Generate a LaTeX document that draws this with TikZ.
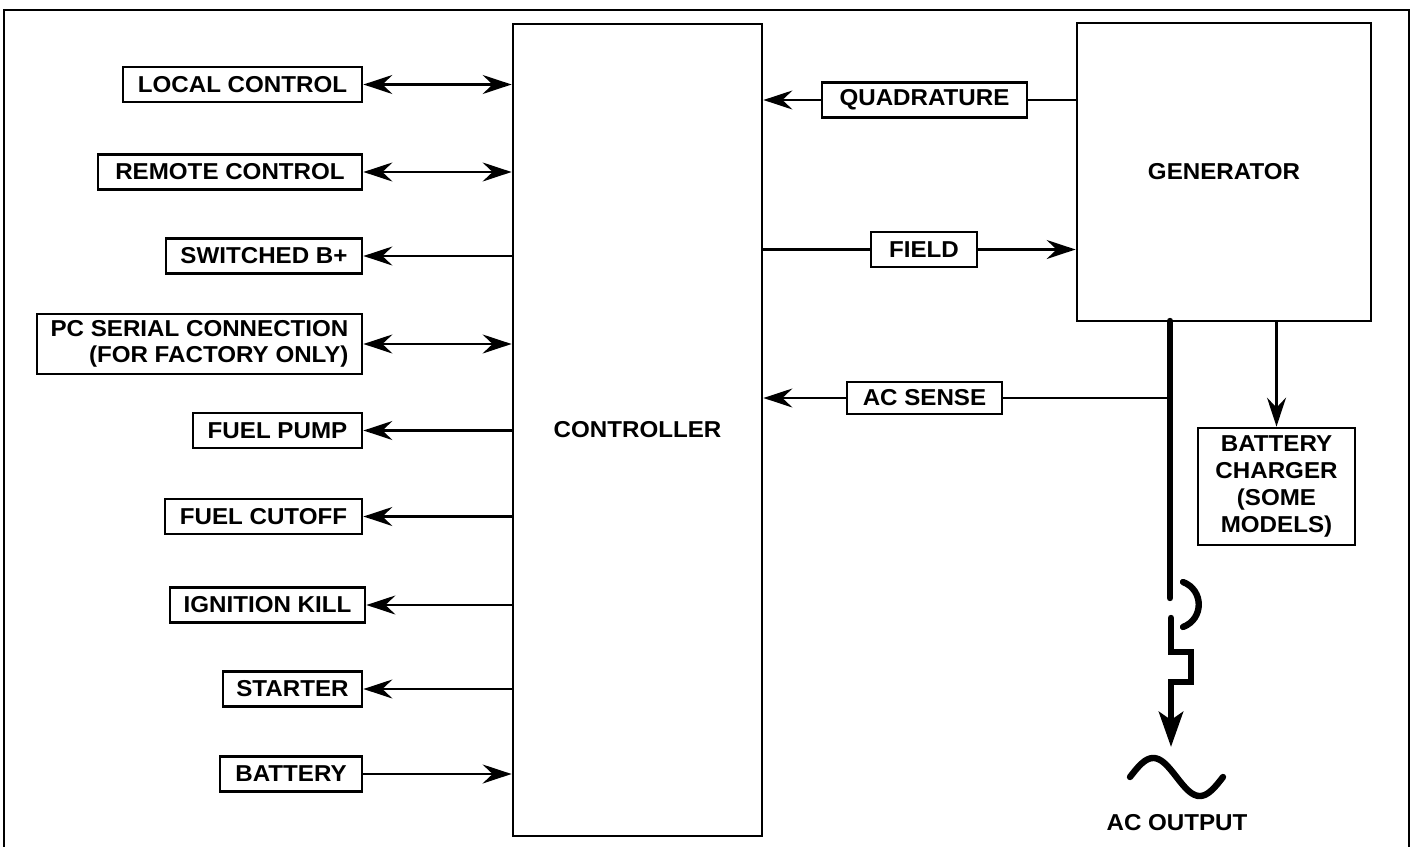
\documentclass[tikz,border=0pt]{standalone}
\usepackage{fontspec}
\setmainfont{Liberation Sans}[FakeStretch=1.05]
\usetikzlibrary{arrows.meta}
\begin{document}
\begin{tikzpicture}[x=0.5pt,y=-0.5pt,
  box/.style={draw,line width=1.4pt,inner sep=0pt,minimum height=17.5pt,
    font=\bfseries\fontsize{11.5}{13}\selectfont},
  blk/.style={draw,line width=1.4pt,inner sep=0pt,
    font=\bfseries\fontsize{11.5}{13}\selectfont},
  wire/.style={line width=1.2pt},
  bus/.style={line width=3.2pt,line cap=round,line join=miter},
  myarr/.tip={Stealth[length=14.5pt,width=9.5pt,inset=5pt]},
  bigarr/.tip={Stealth[length=17.5pt,width=12pt,inset=4pt]}]
\useasboundingbox (0,0) rectangle (1413,846);
% frame
\draw[line width=1.4pt] (4,850) -- (4,10) -- (1409,10) -- (1409,850);
% main blocks
\node[blk,minimum width=124.5pt,minimum height=406pt] (ctrl) at (637.5,430) {CONTROLLER};
\node[blk,minimum width=147pt,minimum height=149pt] (gen) at (1224,172) {GENERATOR};
% left boxes
\node[box,minimum width=119.5pt] (local) at (242.5,84.5) {LOCAL CONTROL};
\node[box,minimum width=132pt] (remote) at (230,172) {REMOTE CONTROL};
\node[box,minimum width=98pt] (swb) at (264,256) {SWITCHED B+};
\node[box,minimum width=162.5pt,minimum height=30pt,align=right,
  font=\bfseries\fontsize{11.5}{12.8}\selectfont] (pc) at (199.5,344)
  {PC SERIAL CONNECTION\\(FOR FACTORY ONLY)};
\node[box,minimum width=84.5pt] (pump) at (277.5,430.5) {FUEL PUMP};
\node[box,minimum width=98.5pt] (cut) at (263.5,516.5) {FUEL CUTOFF};
\node[box,minimum width=97.5pt] (ign) at (267.5,605) {IGNITION KILL};
\node[box,minimum width=69.5pt] (start) at (292.5,689) {STARTER};
\node[box,minimum width=71pt] (batt) at (291,774) {BATTERY};
% right boxes
\node[box,minimum width=102.5pt] (quad) at (924.5,100) {QUADRATURE};
\node[box,minimum width=53pt] (field) at (924,249.5) {FIELD};
\node[box,minimum width=77.5pt,minimum height=16pt] (acs) at (924.5,398) {AC SENSE};
\node[box,minimum width=78.5pt,minimum height=58.5pt,align=center,
  font=\bfseries\fontsize{11.5}{13.5}\selectfont] (chg) at (1276.5,486.5)
  {BATTERY\\CHARGER\\(SOME\\MODELS)};
\node[font=\bfseries\fontsize{11.5}{13}\selectfont] (acout) at (1177,823) {AC OUTPUT};
% left connectors
\draw[wire,myarr-myarr] (local.east) -- (local.east -| ctrl.west);
\draw[wire,myarr-myarr] (remote.east) -- (remote.east -| ctrl.west);
\draw[wire,-myarr] (swb.east -| ctrl.west) -- (swb.east);
\draw[wire,myarr-myarr] (pc.east) -- (pc.east -| ctrl.west);
\draw[wire,-myarr] (pump.east -| ctrl.west) -- (pump.east);
\draw[wire,-myarr] (cut.east -| ctrl.west) -- (cut.east);
\draw[wire,-myarr] (ign.east -| ctrl.west) -- (ign.east);
\draw[wire,-myarr] (start.east -| ctrl.west) -- (start.east);
\draw[wire,-myarr] (batt.east) -- (batt.east -| ctrl.west);
% right connectors
\draw[wire,-myarr] (quad.west) -- (quad.west -| ctrl.east);
\draw[wire] (quad.east) -- (quad.east -| gen.west);
\draw[wire] (field.west -| ctrl.east) -- (field.west);
\draw[wire,-myarr] (field.east) -- (field.east -| gen.west);
\coordinate (b0) at (1170,321);
\coordinate (b1) at (1170,598);
\draw[wire,-myarr] (acs.west) -- (acs.west -| ctrl.east);
\draw[wire] (acs.east) -- (acs.east -| b0);
\draw[wire,-myarr] (chg.north |- gen.south) -- (chg.north);
% output bus with breaker symbol
\draw[bus] (b0) -- (b1);
\draw[bus] (1183,582) .. controls (1204,590) and (1204,619) .. (1183,627);
\coordinate (b2) at (1171,618);
\coordinate (tipAC) at (1171,747);
\draw[bus,-bigarr] (b2) -- (1171,652) -- (1191,652) -- (1191,682) -- (1171,682) -- (tipAC);
% sine wave
\draw[bus] plot[domain=0:360,samples=60,smooth] ({1130+0.2583*\x},{777-19*sin(\x)});
\end{tikzpicture}
\end{document}
